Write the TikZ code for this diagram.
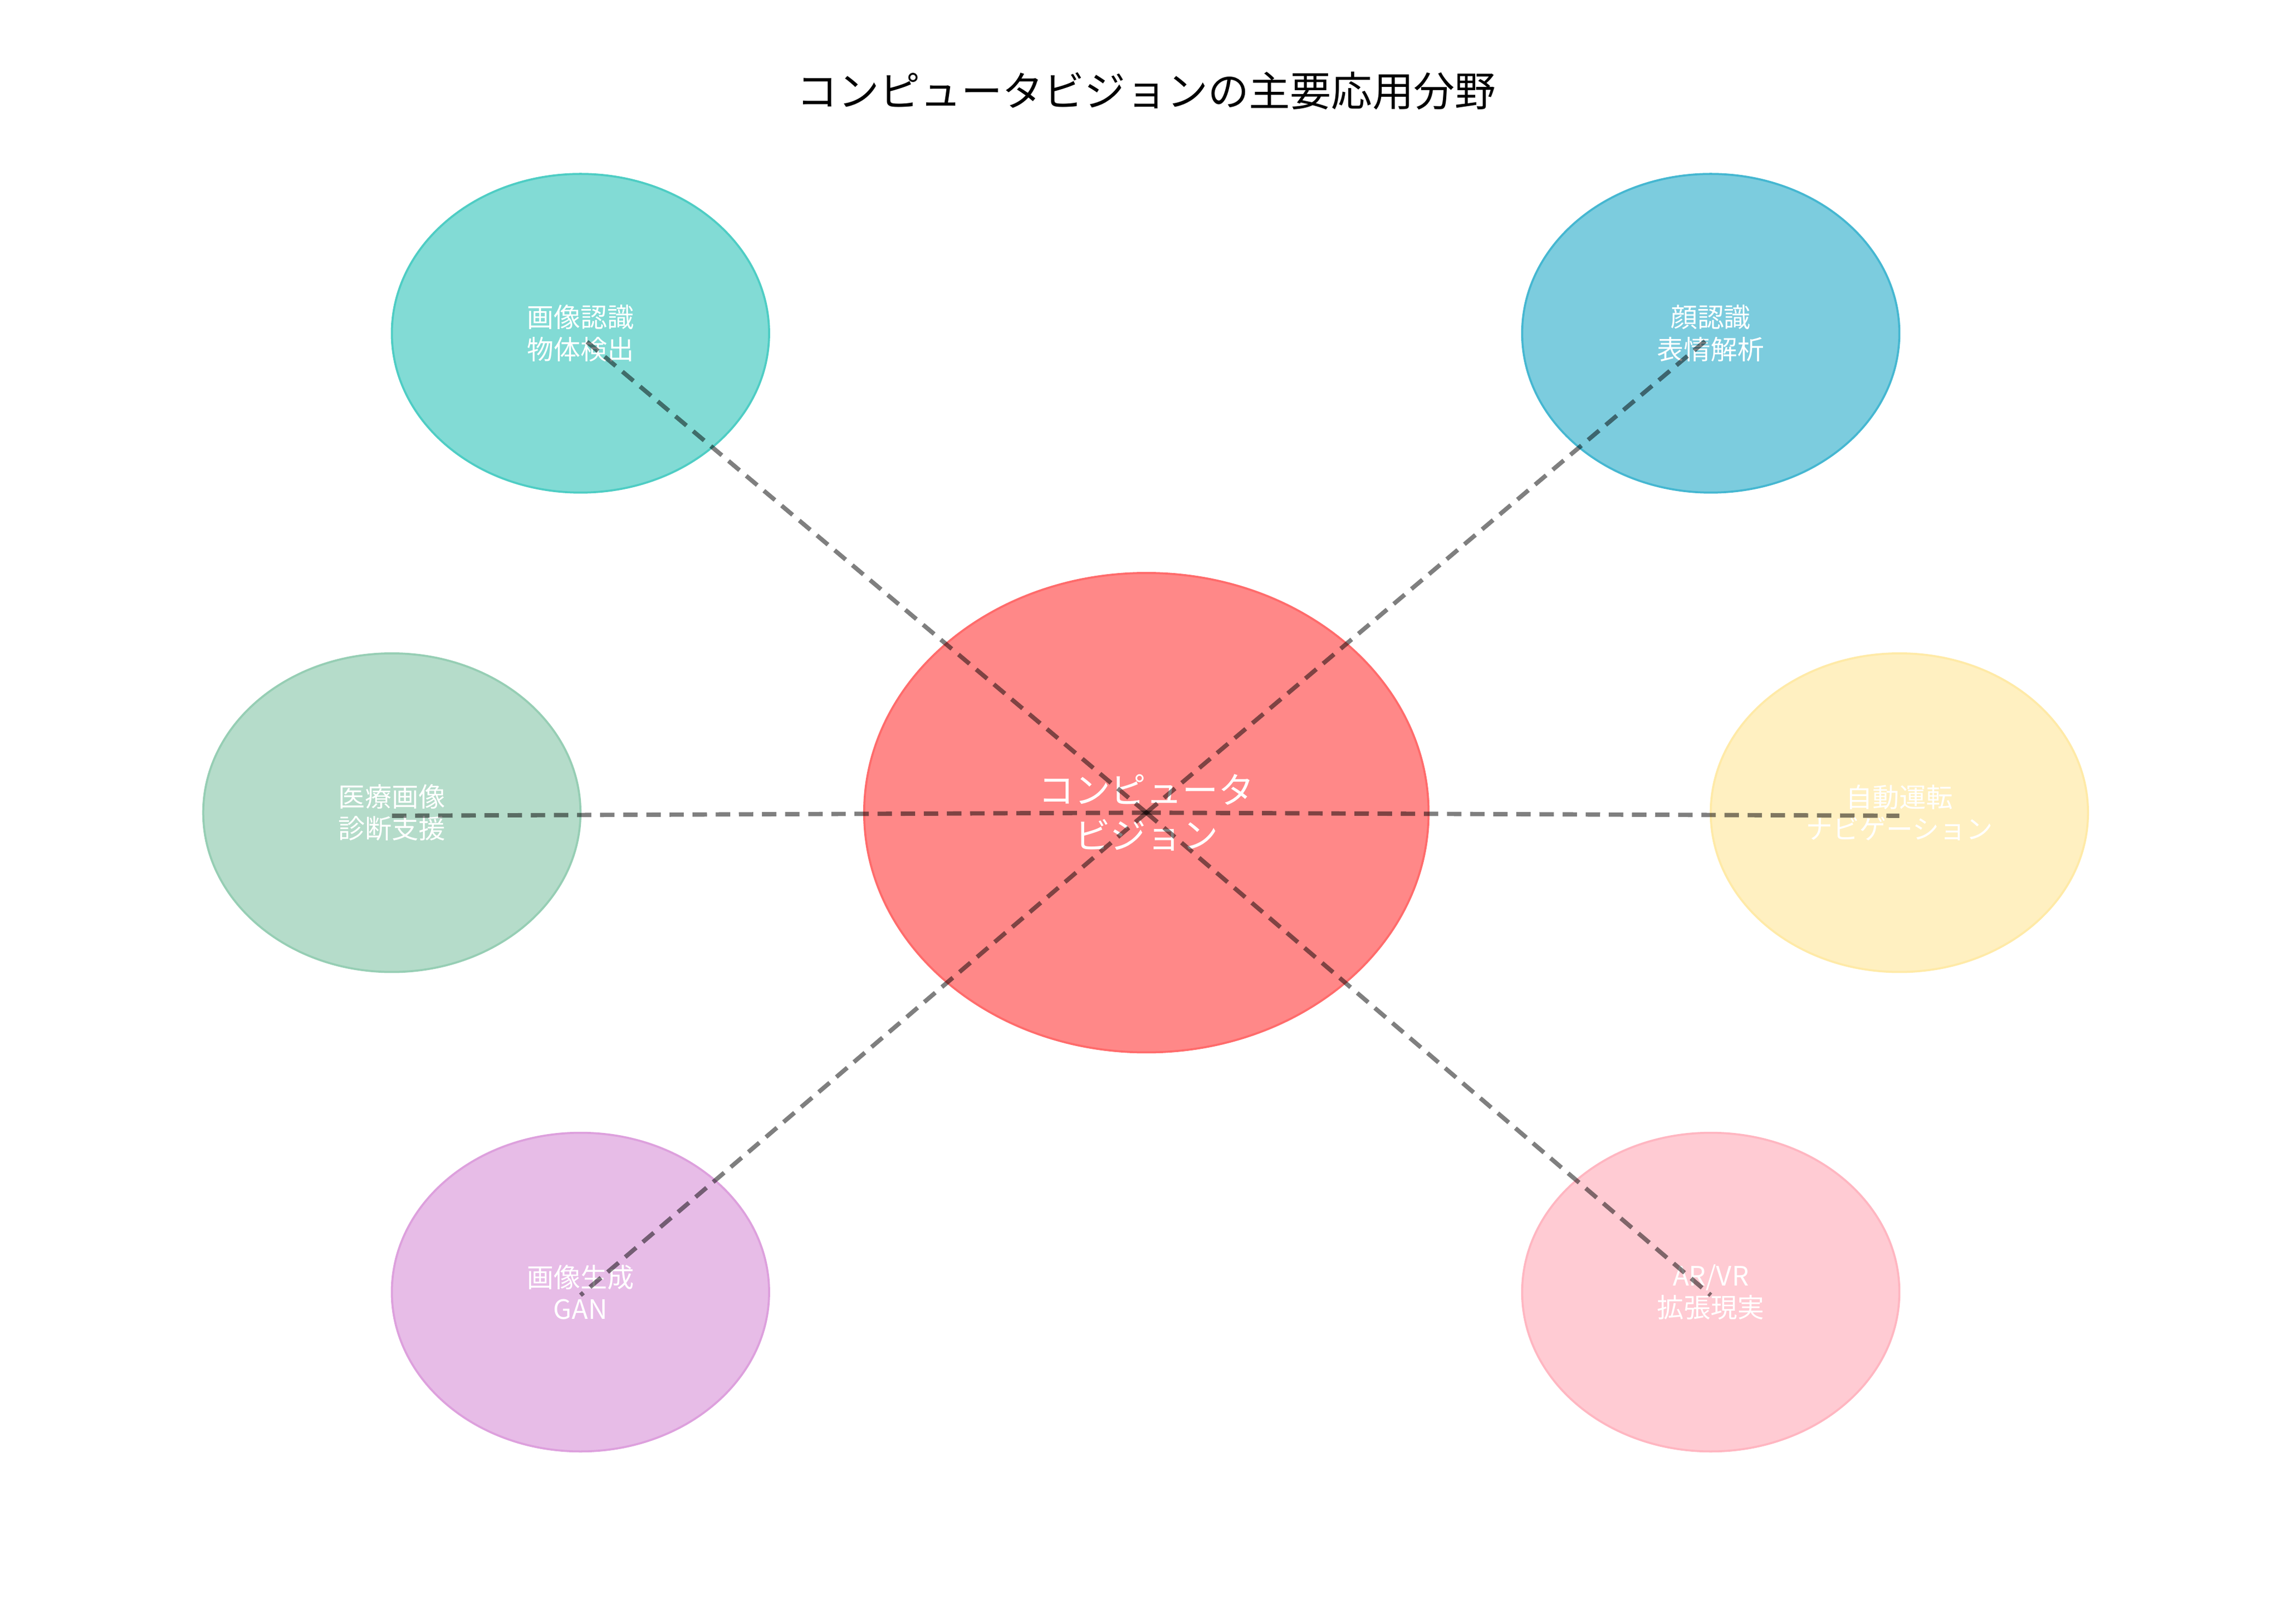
\documentclass[tikz,border=0pt]{standalone}
\usepackage{fontspec}
\newfontfamily\cjk{Noto Sans CJK JP}
\definecolor{cvred}{HTML}{FF6B6B}
\definecolor{cvteal}{HTML}{4ECDC4}
\definecolor{cvblue}{HTML}{45B7D1}
\definecolor{cvgreen}{HTML}{96CEB4}
\definecolor{cvyellow}{HTML}{FFEAA7}
\definecolor{cvplum}{HTML}{DDA0DD}
\definecolor{cvpink}{HTML}{FFB6C1}
\tikzset{
  hub/.style={ellipse, minimum width=19.3cm, minimum height=16.4cm, fill=cvred, fill opacity=0.8, draw=cvred, line width=2pt, text opacity=1, text=white, align=center, font=\cjk\fontsize{35}{44}\selectfont},
  area/.style={ellipse, minimum width=12.9cm, minimum height=10.9cm, fill=#1, fill opacity=0.7, draw=#1, line width=2pt, text opacity=1, text=white, align=center, font=\cjk\fontsize{26}{31}\selectfont},
  link/.style={line width=4.2pt, draw=black, draw opacity=0.5, dash pattern={on 14pt off 8.5pt}},
}
\usetikzlibrary{shapes.geometric}
\begin{document}
\begin{tikzpicture}[x=0.05cm,y=-0.05cm,inner sep=0pt]
\useasboundingbox (0,0) rectangle (1560,1111);
\fill[white] (0,0) rectangle (1560,1111);
\node[font=\cjk\fontsize{40}{44}\selectfont] (title) at (784,62) {コンピュータビジョンの主要応用分野};
% centre and fields
\node[hub] (cv) at (784,556) {コンピュータ\\ビジョン};
\node[area=cvteal] (rec) at (397,228) {画像認識\\物体検出};
\node[area=cvblue] (face) at (1170,228) {顔認識\\表情解析};
\node[area=cvgreen] (med) at (268,556) {医療画像\\診断支援};
\node[area=cvyellow] (auto) at (1299,556) {自動運転\\ナビゲーション};
\node[area=cvplum] (gen) at (397,884) {画像生成\\GAN};
\node[area=cvpink] (ar) at (1170,884) {AR/VR\\拡張現実};
% links
\foreach \n in {rec,face,med,auto,gen,ar}
  \draw[link] (cv.center) -- ([yshift=-3]\n.center);
\end{tikzpicture}
\end{document}
